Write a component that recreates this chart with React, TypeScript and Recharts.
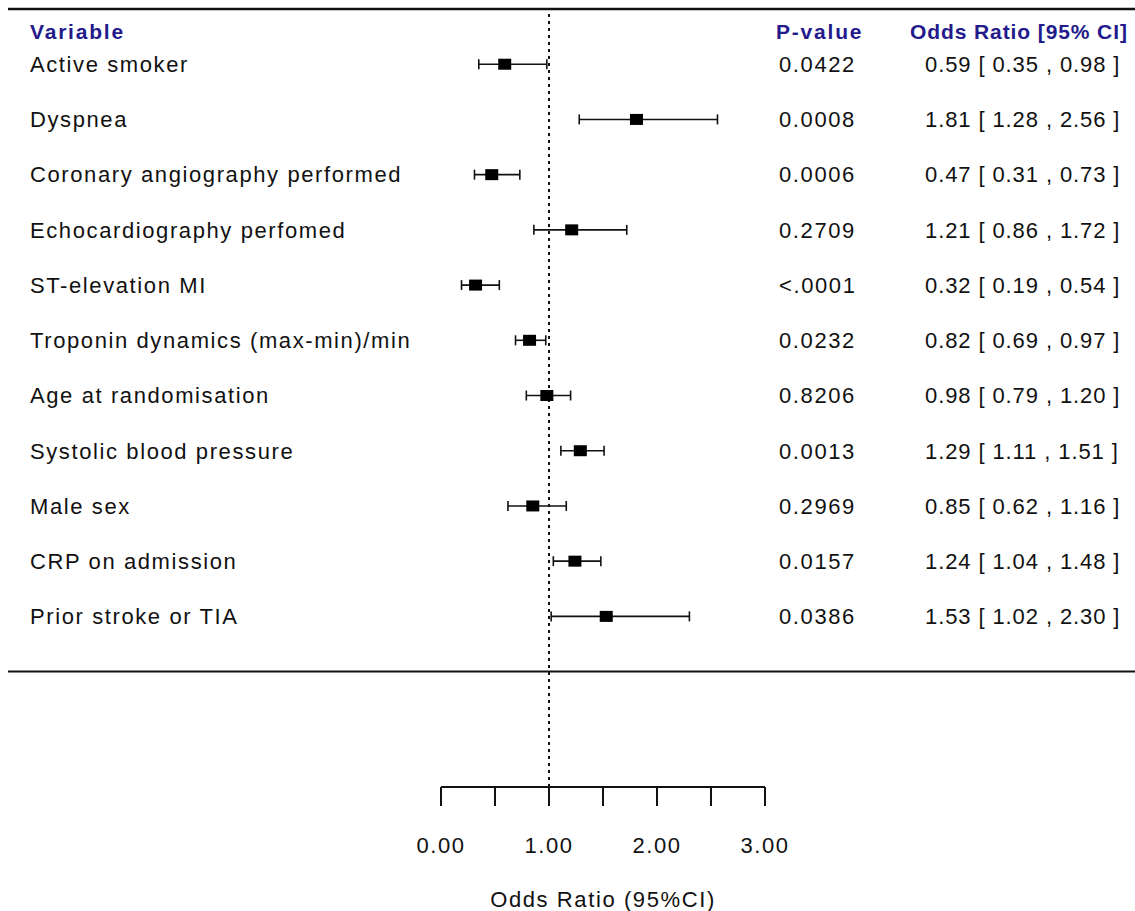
import React from 'react';
import { ScatterChart, Scatter, XAxis, YAxis, ErrorBar, ReferenceLine } from 'recharts';

const variables = [
  'Active smoker',
  'Dyspnea',
  'Coronary angiography performed',
  'Echocardiography perfomed',
  'ST-elevation MI',
  'Troponin dynamics (max-min)/min',
  'Age at randomisation',
  'Systolic blood pressure',
  'Male sex',
  'CRP on admission',
  'Prior stroke or TIA',
];
const oddsRatio = [0.59, 1.81, 0.47, 1.21, 0.32, 0.82, 0.98, 1.29, 0.85, 1.24, 1.53];
const lowerCI = [0.35, 1.28, 0.31, 0.86, 0.19, 0.69, 0.79, 1.11, 0.62, 1.04, 1.02];
const upperCI = [0.98, 2.56, 0.73, 1.72, 0.54, 0.97, 1.2, 1.51, 1.16, 1.48, 2.3];
const pValues = ['0.0422', '0.0008', '0.0006', '0.2709', '<.0001', '0.0232', '0.8206', '0.0013', '0.2969', '0.0157', '0.0386'];
const rowTicks = [1, 2, 3, 4, 5, 6, 7, 8, 9, 10, 11];
const xTicks = [0, 0.5, 1, 1.5, 2, 2.5, 3];

const W = 1135;
const H = 911;
const FONT = '"Liberation Sans", Arial, sans-serif';
const HEAD = '#231a8c';
const TXT = '#111111';
const FS = 22;
const LS = 1.6;
const HLS = 1.8;

const data = variables.map((v, i) => ({
  row: i + 1,
  or: oddsRatio[i],
  err: [oddsRatio[i] - lowerCI[i], upperCI[i] - oddsRatio[i]],
}));

const fmt = (n: number) => n.toFixed(2);

const RowTick = (props: any) => {
  const { y, payload } = props;
  const idx = payload.value - 1;
  if (idx < 0 || idx >= variables.length) return null;
  const hy = y - 33;
  return (
    <g>
      {idx === 0 && (
        <g fontFamily={FONT} fontSize={FS - 1} fontWeight="bold" fill={HEAD}>
          <text x={30} y={hy} dy="0.355em" letterSpacing={HLS}>Variable</text>
          <text x={776} y={hy} dy="0.355em" letterSpacing={HLS}>P-value</text>
          <text x={910} y={hy} dy="0.355em" letterSpacing={0.9}>Odds Ratio [95% CI]</text>
        </g>
      )}
      <g fontFamily={FONT} fontSize={FS} fill={TXT}>
        <text x={30} y={y} dy="0.355em" letterSpacing={LS}>{variables[idx]}</text>
        <text x={779} y={y} dy="0.355em" letterSpacing={LS}>{pValues[idx]}</text>
        <text x={925} y={y} dy="0.355em" letterSpacing={0.9}>
          {`${fmt(oddsRatio[idx])} [ ${fmt(lowerCI[idx])} , ${fmt(upperCI[idx])} ]`}
        </text>
      </g>
    </g>
  );
};

const XTick = (props: any) => {
  const { x, payload } = props;
  const v = payload.value;
  if (!Number.isInteger(v)) return null;
  return (
    <text x={x} y={845} dy="0.355em" textAnchor="middle" fontFamily={FONT} fontSize={FS} fill={TXT} letterSpacing={LS}>
      {fmt(v)}
    </text>
  );
};

const Square = (props: any) => {
  const { cx, cy } = props;
  return <rect x={cx - 6.5} y={cy - 5.5} width={13} height={11} fill="#000" />;
};

const FullLine = (props: any) => {
  const { y1, sw } = props;
  return <line x1={8} x2={W} y1={y1} y2={y1} stroke="#111" strokeWidth={sw} />;
};

export default function App() {
  return (
    <div style={{ position: 'absolute', left: 0, top: 0, width: W, height: H, background: '#fff' }}>
      <ScatterChart width={W} height={H} margin={{ top: 9, right: 370, bottom: 0, left: 0 }}>
        <XAxis
          type="number"
          dataKey="or"
          domain={[0, 3]}
          ticks={xTicks}
          interval={0}
          allowDataOverflow
          tickSize={19}
          axisLine={{ stroke: '#111', strokeWidth: 2 }}
          tickLine={{ stroke: '#111', strokeWidth: 2 }}
          tick={<XTick />}
          height={124}
          label={{ value: 'Odds Ratio (95%CI)', position: 'insideBottom', offset: 4, fontFamily: FONT, fontSize: FS, fill: TXT, letterSpacing: LS }}
        />
        <YAxis
          type="number"
          dataKey="row"
          orientation="left"
          domain={[0, 14.09]}
          reversed
          ticks={rowTicks}
          interval={0}
          width={441}
          axisLine={false}
          tickLine={false}
          tick={<RowTick />}
        />
        <ReferenceLine y={0} ifOverflow="visible" shape={(p: any) => <FullLine {...p} sw={2.5} />} />
        <ReferenceLine y={12} ifOverflow="visible" shape={(p: any) => <FullLine {...p} sw={2} />} />
        <ReferenceLine x={1} stroke="#111" strokeWidth={2} strokeDasharray="3 4" />
        <Scatter data={data} dataKey="row" shape={<Square />} isAnimationActive={false}>
          <ErrorBar dataKey="err" direction="x" width={5} stroke="#111" strokeWidth={1.6} />
        </Scatter>
      </ScatterChart>
    </div>
  );
}
